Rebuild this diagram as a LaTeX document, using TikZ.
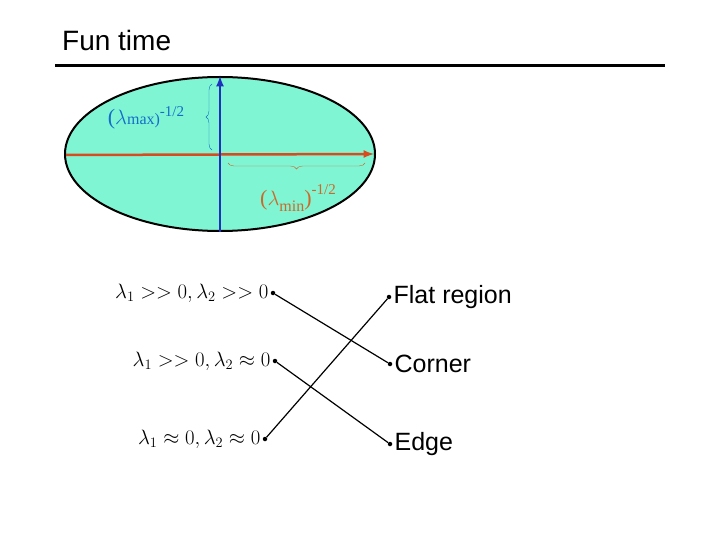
\documentclass[tikz,border=0pt]{standalone}
\usepackage{fontspec}
\setmainfont{Liberation Sans}
\newfontfamily\serif{Liberation Serif}
\usetikzlibrary{decorations.pathreplacing}
\definecolor{aqua}{RGB}{127,245,212}
\definecolor{ablue}{RGB}{30,50,190}
\definecolor{ared}{RGB}{215,75,30}
\definecolor{lblue}{RGB}{20,110,200}
\definecolor{lorange}{RGB}{205,105,40}
\tikzset{dot/.style={circle,fill=black,inner sep=0pt,minimum size=4.5pt},
 lbl/.style={font=\fontsize{25}{28}\selectfont,anchor=west,inner sep=2pt},
 frm/.style={font=\fontsize{20}{24}\selectfont,anchor=east,inner sep=2pt},
 conn/.style={line width=1.2pt}}
\begin{document}
\begin{tikzpicture}[x=1pt,y=-1pt]
\useasboundingbox (0,0) rectangle (720,540);
\node[anchor=base west,inner sep=0pt,font=\fontsize{28}{32}\selectfont] (title) at (62,51) {Fun time};
\draw[line width=3pt] (55,66) -- (665,66);
\draw[fill=aqua,line width=2pt] (220,154) ellipse [x radius=155,y radius=77];
\draw[ared,line width=2.5pt,-latex] (66,155) -- (374,154);
\draw[ablue,line width=2.5pt,-latex] (220,232) -- (220,76);
\draw[lblue,decorate,decoration={brace,amplitude=6pt}] (212,150) -- (212,84);
\draw[lorange,decorate,decoration={brace,amplitude=6pt}] (365,163) -- (228,163);
\node[lblue,font=\serif\fontsize{22}{24}\selectfont,inner sep=0pt] (lmax) at (146,118) {($\lambda$\fontsize{16}{18}\selectfont max)\raisebox{1.1ex}{\fontsize{15}{16}\selectfont -1/2}};
\node[lorange,font=\serif\fontsize{22}{24}\selectfont,inner sep=0pt] (lmin) at (298,198) {($\lambda$\raisebox{-0.6ex}{\fontsize{16}{18}\selectfont min})\raisebox{1.1ex}{\fontsize{15}{16}\selectfont -1/2}};
\node[dot] (a1) at (273,293) {};
\node[dot] (a2) at (275,361) {};
\node[dot] (a3) at (265,439) {};
\node[dot] (b1) at (389,297) {};
\node[dot] (b2) at (390,364) {};
\node[dot] (b3) at (390,444) {};
\node[frm] at (a1.west) {\serif$\lambda_1 >> 0, \lambda_2 >> 0$};
\node[frm] at (a2.west) {\serif$\lambda_1 >> 0, \lambda_2 \approx 0$};
\node[frm] at (a3.west) {\serif$\lambda_1 \approx 0, \lambda_2 \approx 0$};
\node[lbl] at (b1.east) {Flat region};
\node[lbl] at (b2.east) {Corner};
\node[lbl] at (b3.east) {Edge};
\draw[conn] (a1) -- (b2);
\draw[conn] (a2) -- (b3);
\draw[conn] (a3) -- (b1);
\end{tikzpicture}
\end{document}
